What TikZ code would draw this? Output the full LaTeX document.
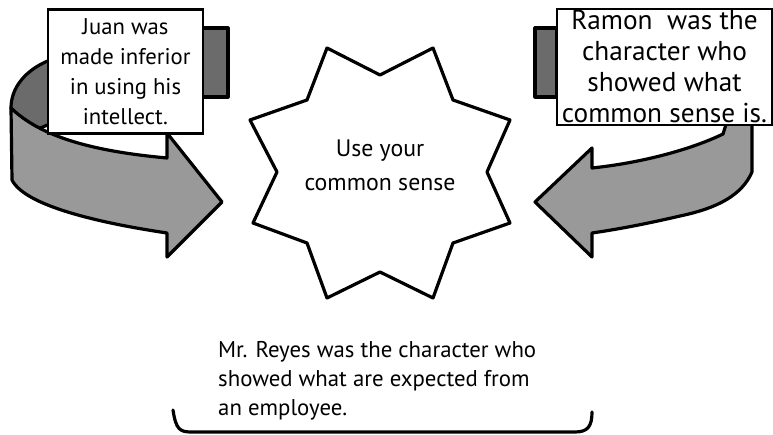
\documentclass[tikz,border=0pt]{standalone}
\usepackage{fontspec}
\setmainfont{PT Sans}
\tikzset{
  outline/.style={draw=black, line width=3.2pt, line join=round},
  frontband/.style={outline, fill=black!40},
  backband/.style={outline, fill=black!58},
  notebox/.style={draw=black, line width=2.2pt, fill=white, align=center, inner sep=0pt},
  bracketline/.style={draw=black, line width=3.2pt, line cap=round},
}
\begin{document}
\begin{tikzpicture}[x=1pt, y=-1pt]
\useasboundingbox (0,0) rectangle (773,435);

% left curved arrow: hidden back part, tail and front band
\draw[backband] (202,28) rectangle (228,97);
\draw[backband] (50,60) .. controls (25,70) and (11,88) .. (11,108)
   -- (33,131) -- (50,124) -- cycle;
\draw[frontband] (11,108) .. controls (40,136) and (90,151) .. (167,158)
   -- (167,133) -- (222,202) -- (167,257) -- (167,233)
   .. controls (100,223) and (25,206) .. (12,180) -- cycle;

% right curved arrow: tail and front band
\draw[backband] (535,28) rectangle (557,97);
\draw[frontband] (752,118) -- (752,172)
   .. controls (742,195) and (718,208) .. (680,216)
   .. controls (650,223) and (620,229) .. (592,233)
   -- (592,257) -- (535,202) -- (592,148) -- (592,168)
   .. controls (640,163) and (690,150) .. (723,134) -- (728,118) -- cycle;

% text boxes on the arrows
\node[notebox, minimum width=155pt, minimum height=124pt,
      font=\fontsize{22.7}{30}\selectfont] (juan) at (125.5,71.5)
  {Juan was\\made inferior\\in using his\\intellect.};
\node[notebox, minimum width=215pt, minimum height=116pt,
      font=\fontsize{27.3}{31}\selectfont] (ramon) at (664.5,67)
  {Ramon\ \ was the\\character who\\showed what\\common sense is.};

% central eight-pointed star
\draw[outline, fill=white]
  (327,48) -- (380,75) -- (433,48) -- (453,100) -- (510,120) -- (487,172)
  -- (510,223) -- (453,243) -- (433,298) -- (380,272) -- (327,298)
  -- (307,243) -- (253,223) -- (277,172) -- (250,120) -- (307,100) -- cycle;
\node[align=center, font=\fontsize{23.8}{34}\selectfont] (sense) at (380,165)
  {Use your\\common sense};

% bottom note with its bracket
\node[anchor=west, align=left, inner sep=0pt, font=\fontsize{22.8}{29}\selectfont]
  (reyes) at (218,381)
  {Mr. Reyes was the character who\\showed what are expected from\\an employee.};
\coordinate (bl) at (173,410);
\coordinate (br) at (592,412);
\draw[bracketline] (bl) .. controls (176,430) and (180,432) .. (192,432)
  -- (575,432) .. controls (588,432) and (592,426) .. (br);
\end{tikzpicture}
\end{document}
